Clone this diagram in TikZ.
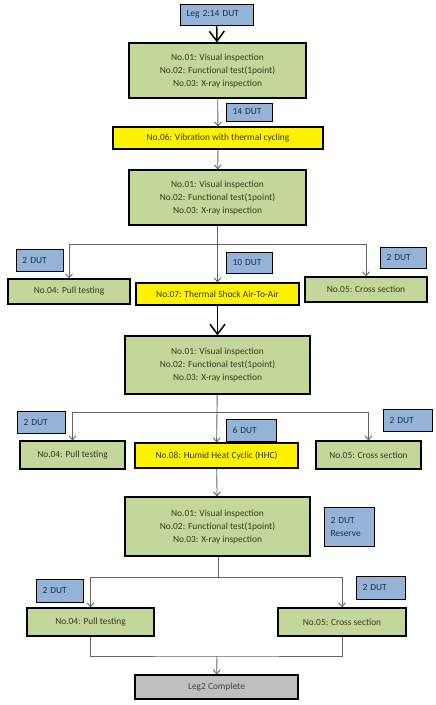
\documentclass[tikz,border=0pt]{standalone}
\usepackage{fontspec}
\setmainfont{Carlito}
\usetikzlibrary{arrows.meta,positioning}
\definecolor{olivebox}{RGB}{196,215,155}
\definecolor{dutblue}{RGB}{149,179,215}
\definecolor{dutnavy}{RGB}{25,45,85}
\definecolor{oliveink}{RGB}{50,60,22}
\definecolor{wire}{RGB}{100,100,100}

\begin{document}
\begin{tikzpicture}[x=1pt, y=-1pt,
    every node/.style={font=\fontsize{9.4}{13}\selectfont, inner sep=0pt},
    testbox/.style={draw=black, line width=1.1pt, fill=olivebox, text=oliveink, align=center},
    stressbox/.style={testbox, fill=yellow},
    dutbox/.style={draw=black, line width=0.9pt, fill=dutblue, text=dutnavy, align=left, inner xsep=6.5pt},
    donebox/.style={testbox, fill=black!25, text=black!75},
    line/.style={draw=wire, line width=0.9pt},
    flow/.style={line, -{Straight Barb[length=4pt, width=7pt]}},
    bigflow/.style={black, line width=1.5pt, -{Straight Barb[length=10pt, width=15pt]}}]
  \useasboundingbox (0,0) rectangle (436,705);

  % main column
  \node[dutbox, text width=60pt, minimum height=21pt] (leg) at (216.5,14.5) {Leg 2:14 DUT};
  \node[testbox, minimum width=177pt, minimum height=55pt] (insp1) at (217.5,70.5) {No.01: Visual inspection\\No.02: Functional test(1point)\\No.03: X-ray inspection};
  \node[dutbox, text width=33pt, minimum height=18pt] (dut14) at (249,112) {14 DUT};
  \node[stressbox, minimum width=210pt, minimum height=22pt] (vib) at (218,138) {No.06: Vibration with thermal cycling};
  \node[testbox, minimum width=177pt, minimum height=55pt] (insp2) at (217.5,197.5) {No.01: Visual inspection\\No.02: Functional test(1point)\\No.03: X-ray inspection};

  % first split
  \node[dutbox, text width=34pt, minimum height=22pt] (dutL1) at (39.5,260) {2 DUT};
  \node[dutbox, text width=33pt, minimum height=21pt] (dut10) at (249,262.5) {10 DUT};
  \node[dutbox, text width=33pt, minimum height=21pt] (dutR1) at (403,257.5) {2 DUT};
  \node[testbox, minimum width=122pt, minimum height=25pt] (pullA) at (69,291.5) {No.04: Pull testing};
  \node[stressbox, minimum width=163pt, minimum height=22pt] (shock) at (217.5,294) {No.07: Thermal Shock Air-To-Air};
  \node[testbox, minimum width=122pt, minimum height=25pt] (crossA) at (366,289.5) {No.05: Cross section};
  \node[testbox, minimum width=185pt, minimum height=58pt] (insp3) at (217.5,365) {No.01: Visual inspection\\No.02: Functional test(1point)\\No.03: X-ray inspection};

  % second split
  \node[dutbox, text width=35pt, minimum height=22pt] (dutL2) at (41,422) {2 DUT};
  \node[dutbox, text width=37pt, minimum height=22pt] (dut6) at (251,430) {6 DUT};
  \node[dutbox, text width=36pt, minimum height=22pt] (dutR2) at (407.5,420) {2 DUT};
  \node[testbox, minimum width=105pt, minimum height=28pt] (pullB) at (72.5,455) {No.04: Pull testing};
  \node[stressbox, minimum width=163pt, minimum height=25pt] (hhc) at (216.5,455.5) {No.08: Humid Heat Cyclic (HHC)};
  \node[testbox, minimum width=105pt, minimum height=28pt] (crossB) at (368.5,455) {No.05: Cross section};
  \node[testbox, minimum width=185pt, minimum height=59pt] (insp4) at (217.5,526.5) {No.01: Visual inspection\\No.02: Functional test(1point)\\No.03: X-ray inspection};
  \node[dutbox, text width=37pt, minimum height=39pt] (reserve) at (349,526.5) {2 DUT\\Reserve};

  % last split
  \node[dutbox, text width=34pt, minimum height=23pt] (dutL3) at (59.5,590.5) {2 DUT};
  \node[dutbox, text width=36pt, minimum height=23pt] (dutR3) at (380.5,587.5) {2 DUT};
  \node[testbox, minimum width=127pt, minimum height=28pt] (pullC) at (90.5,622) {No.04: Pull testing};
  \node[testbox, minimum width=128pt, minimum height=28pt] (crossC) at (342,622) {No.05: Cross section};
  \node[donebox, minimum width=163pt, minimum height=24pt] (done) at (216.5,687) {Leg2 Complete};

  \coordinate (split1) at (218,244);
  \coordinate (split2) at (218,412);
  \coordinate (split3) at (218,577);
  \coordinate (merge) at (217,656);

  \draw[bigflow] (leg) -- (insp1);
  \draw[flow] (insp1) -- (vib);
  \draw[flow] (vib) -- (insp2);
  \draw[flow] (insp2) -- (shock);
  \draw[flow] (split1) -| (pullA);
  \draw[flow] (split1) -| (crossA);
  \draw[bigflow] (shock) -- (insp3);
  \draw[flow] (insp3) -- (hhc);
  \draw[flow] (split2) -| (pullB);
  \draw[flow] (split2) -| (crossB);
  \draw[flow] (hhc) -- (insp4);
  \draw[line] (insp4.south -| split3) -- (split3);
  \draw[flow] (split3) -| (pullC);
  \draw[flow] (split3) -| (crossC);
  \draw[line] (pullC) |- (merge) -| (crossC);
  \draw[flow] (merge) -- (done);
\end{tikzpicture}
\end{document}
